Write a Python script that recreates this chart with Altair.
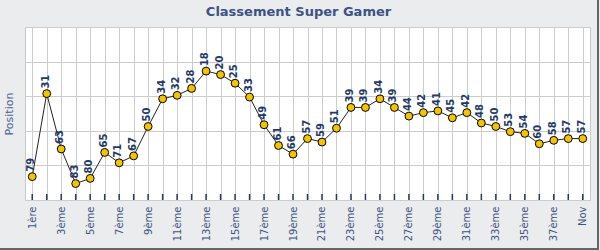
import altair as alt
import pandas as pd

labels = ["1ère", "2ème", "3ème", "4ème", "5ème", "6ème", "7ème", "8ème", "9ème", "10ème",
          "11ème", "12ème", "13ème", "14ème", "15ème", "16ème", "17ème", "18ème", "19ème", "20ème",
          "21ème", "22ème", "23ème", "24ème", "25ème", "26ème", "27ème", "28ème", "29ème", "30ème",
          "31ème", "32ème", "33ème", "34ème", "35ème", "36ème", "37ème", "38ème", "Nov"]
positions = [79, 31, 63, 83, 80, 65, 71, 67, 50, 34, 32, 28, 18, 20, 25, 33, 49, 61, 66, 57,
             59, 51, 39, 39, 34, 39, 44, 42, 41, 45, 42, 48, 50, 53, 54, 60, 58, 57, 57]
shown_labels = ["1ère", "3ème", "5ème", "7ème", "9ème", "11ème", "13ème", "15ème", "17ème", "19ème",
                "21ème", "23ème", "25ème", "27ème", "29ème", "31ème", "33ème", "35ème", "37ème", "Nov"]
y_domain = [-7.5, 92.5]
y_grid = [-7.5, 12.5, 32.5, 52.5, 72.5, 92.5]

df = pd.DataFrame({"label": labels, "pos": positions})

W, H = 565, 173
NAVY = "#1f3a68"
FONT = "DejaVu Sans"

arr = "[" + ",".join("'" + s + "'" for s in shown_labels) + "]"
label_expr = f"indexof({arr}, datum.value) >= 0 ? datum.value : ''"

x_enc = alt.X("label:N", sort=labels,
              scale=alt.Scale(type="point", padding=0.5),
              axis=alt.Axis(title=None, grid=True, gridColor="#cccccc", ticks=False, domain=False,
                            labelAngle=-90, labelAlign="right", labelBaseline="middle",
                            labelPadding=6, labelFont=FONT, labelFontSize=10,
                            labelColor="#3b5483", labelExpr=label_expr))
y_enc = alt.Y("pos:Q", scale=alt.Scale(domain=y_domain, reverse=True, nice=False, zero=False),
              axis=alt.Axis(title="Position", values=y_grid, labels=False, ticks=False, domain=False,
                            grid=True, gridColor="#cccccc", titleFont=FONT, titleFontSize=11,
                            titleFontWeight="normal", titleColor="#4a6494", titlePadding=11))

base = alt.Chart(df)

line = base.mark_line(color="#222222", strokeWidth=1).encode(x=x_enc, y=y_enc)
pts = base.mark_point(filled=True, shape="circle", size=62, fill="#f5c400",
                      stroke="#000000", strokeWidth=1, opacity=1).encode(x=x_enc, y=y_enc)
txt = base.mark_text(angle=270, align="left", baseline="middle", dx=5, dy=-1,
                     font=FONT, fontWeight="bold", fontSize=10, color=NAVY).encode(
    x=x_enc, y=y_enc, text="pos:Q")
ticks = base.mark_rule(color=NAVY, strokeWidth=1.5).encode(
    x=x_enc, y=alt.value(H - 6), y2=alt.value(H))

border_df = pd.DataFrame({"a": [0]})
border_r = alt.Chart(border_df).mark_rule(color="#666666", strokeWidth=2).encode(
    x=alt.value(573), y=alt.value(-27), y2=alt.value(222))
border_b = alt.Chart(border_df).mark_rule(color="#666666", strokeWidth=2).encode(
    x=alt.value(-25), x2=alt.value(574), y=alt.value(222))

chart = alt.layer(ticks, line, pts, txt, border_r, border_b).properties(
    width=W, height=H,
    title=alt.TitleParams("Classement Super Gamer", font=FONT, fontSize=13, fontWeight="bold",
                          color="#3b5383", anchor="middle", dx=-9, offset=-20),
    autosize=alt.AutoSizeParams(type="none"),
    padding={"left": 25, "top": 27, "right": 10, "bottom": 50},
    background="#ebecee",
).configure_view(stroke="#c8c8c8", fill="#ffffff")

chart.save("out.html", embed_options={"renderer": "svg", "actions": False})
